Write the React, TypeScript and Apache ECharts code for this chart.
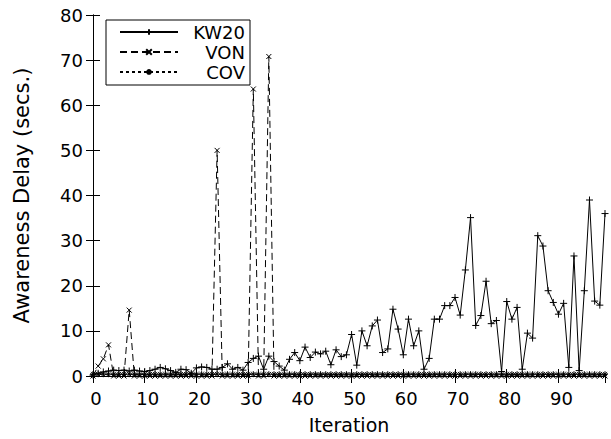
import React, { useEffect, useRef } from "react";
import * as echarts from "echarts";

const iterations = [
  0, 1, 2, 3, 4, 5, 6, 7, 8, 9, 10, 11, 12, 13, 14, 15, 16, 17, 18, 19,
  20, 21, 22, 23, 24, 25, 26, 27, 28, 29, 30, 31, 32, 33, 34, 35, 36, 37, 38, 39,
  40, 41, 42, 43, 44, 45, 46, 47, 48, 49, 50, 51, 52, 53, 54, 55, 56, 57, 58, 59,
  60, 61, 62, 63, 64, 65, 66, 67, 68, 69, 70, 71, 72, 73, 74, 75, 76, 77, 78, 79,
  80, 81, 82, 83, 84, 85, 86, 87, 88, 89, 90, 91, 92, 93, 94, 95, 96, 97, 98, 99,
];

const kw20 = [
  0.2, 0.6, 0.9, 1.1, 1.3, 1.2, 1.3, 1.1, 1.3, 1.1,
  1.0, 1.2, 1.5, 1.9, 1.6, 1.2, 0.8, 1.5, 1.4, 0.6,
  1.8, 2.0, 1.9, 1.5, 1.5, 1.9, 2.7, 1.5, 1.9, 1.3,
  3.0, 3.9, 4.4, 1.5, 4.4, 3.2, 2.2, 1.3, 3.7, 5.2,
  3.4, 6.4, 4.1, 5.3, 4.9, 5.5, 2.5, 5.8, 4.3, 4.7,
  9.2, 2.4, 10.0, 6.7, 11.1, 12.4, 5.2, 6.0, 14.8, 10.4,
  4.7, 12.6, 6.7, 10.0, 1.5, 3.9, 12.6, 12.6, 15.6, 15.6,
  17.4, 13.5, 23.5, 35.1, 11.2, 13.4, 21.0, 11.6, 12.3, 1.0,
  16.5, 12.6, 15.2, 1.5, 9.5, 8.4, 31.1, 28.8, 18.9, 16.3,
  13.7, 16.1, 1.9, 26.6, 1.2, 18.9, 39.0, 16.6, 15.7, 36.0,
];

const von = [
  0, 2.2, 3.8, 6.9, 0, 0, 0, 14.6, 0, 0,
  0, 0, 0, 0, 0, 0, 0, 0, 0, 0,
  0, 0, 0, 0, 50.0, 0, 0, 0, 0, 0,
  0, 63.6, 0, 0, 70.8, 0, 0, 0, 0, 0,
  0, 0, 0, 0, 0, 0, 0, 0, 0, 0,
  0, 0, 0, 0, 0, 0, 0, 0, 0, 0,
  0, 0, 0, 0, 0, 0, 0, 0, 0, 0,
  0, 0, 0, 0, 0, 0, 0, 0, 0, 0,
  0, 0, 0, 0, 0, 0, 0, 0, 0, 0,
  0, 0, 0, 0, 0, 0, 0, 0, 0, 0,
];

const cov = [
  0.4, 0.4, 0.4, 0.4, 0.4, 0.4, 0.4, 0.4, 0.4, 0.4,
  0.4, 0.4, 0.4, 0.4, 0.4, 0.4, 0.4, 0.4, 0.4, 0.4,
  0.4, 0.4, 0.4, 0.4, 0.4, 0.4, 0.4, 0.4, 0.4, 0.4,
  0.4, 0.4, 0.4, 0.4, 0.4, 0.4, 0.4, 0.4, 0.4, 0.4,
  0.4, 0.4, 0.4, 0.4, 0.4, 0.4, 0.4, 0.4, 0.4, 0.4,
  0.4, 0.4, 0.4, 0.4, 0.4, 0.4, 0.4, 0.4, 0.4, 0.4,
  0.4, 0.4, 0.4, 0.4, 0.4, 0.4, 0.4, 0.4, 0.4, 0.4,
  0.4, 0.4, 0.4, 0.4, 0.4, 0.4, 0.4, 0.4, 0.4, 0.4,
  0.4, 0.4, 0.4, 0.4, 0.4, 0.4, 0.4, 0.4, 0.4, 0.4,
  0.4, 0.4, 0.4, 0.4, 0.4, 0.4, 0.4, 0.4, 0.4, 0.4,
];

const seriesNames = ["KW20", "VON", "COV"];

const FONT = "DejaVu Sans";
const PLUS = "path://M0,5L10,5M5,0L5,10";
const CROSS = "path://M0,0L10,10M10,0L0,10";
const STAR = "path://M0,5L10,5M5,0L5,10M1.5,1.5L8.5,8.5M8.5,1.5L1.5,8.5";

function pairs(vals: number[]) {
  return iterations.map((x, i) => [x, vals[i]]);
}

export default function App() {
  const ref = useRef<HTMLDivElement>(null);
  useEffect(() => {
    if (!ref.current) return;
    const chart = echarts.init(ref.current, null, { renderer: "svg" });
    const axisCommon = {
      axisLine: { show: true, lineStyle: { color: "#000", width: 1 } },
      axisTick: { show: true, inside: true, length: 7, lineStyle: { color: "#000", width: 1 } },
      splitLine: { show: false },
    };
    const mk = (name: string, vals: number[], symbol: string, size: number, dash: any) => ({
      name,
      type: "line",
      data: pairs(vals),
      symbol,
      symbolSize: size,
      showAllSymbol: true,
      lineStyle: { color: "#000", width: 1, type: dash },
      itemStyle: { color: "#000", borderColor: "#000", borderWidth: 1 },
      emphasis: { disabled: true },
    });
    chart.setOption({
      animation: false,
      backgroundColor: "#fff",
      grid: {
        left: 93,
        right: 6,
        top: 15,
        bottom: 63,
        containLabel: false,
        outerBoundsMode: "none",
      },
      legend: {
        data: seriesNames,
        orient: "vertical",
        left: 106,
        top: 20,
        padding: [3, 5, 4, 13],
        itemGap: 2,
        itemWidth: 58,
        itemHeight: 7,
        itemTextGap: 2,
        borderColor: "#000",
        borderWidth: 1,
        backgroundColor: "#fff",
        selectedMode: false,
        formatter: (n: string) => "{a|" + n + "}",
        textStyle: {
          color: "#000",
          fontFamily: FONT,
          fontSize: 18,
          rich: { a: { width: 62, align: "right", fontFamily: FONT, fontSize: 18, color: "#000" } },
        },
      },
      xAxis: [
        {
          type: "value",
          min: 0,
          max: 99,
          interval: 10,
          position: "bottom",
          name: "Iteration",
          nameLocation: "middle",
          nameGap: 39,
          nameTextStyle: { color: "#000", fontFamily: FONT, fontSize: 19 },
          axisLabel: {
            color: "#000",
            fontFamily: FONT,
            fontSize: 18,
            margin: 13,
            showMaxLabel: false,
            padding: [0, 0, 0, 6],
          },
          ...axisCommon,
        },
        {
          type: "value",
          min: 0,
          max: 99,
          interval: 10,
          position: "top",
          axisLabel: { show: false },
          ...axisCommon,
        },
      ],
      yAxis: [
        {
          type: "value",
          min: 0,
          max: 80,
          interval: 10,
          position: "left",
          name: "Awareness Delay (secs.)",
          nameLocation: "middle",
          nameGap: 61,
          nameTextStyle: { color: "#000", fontFamily: FONT, fontSize: 21 },
          axisLabel: { color: "#000", fontFamily: FONT, fontSize: 18, margin: 10 },
          ...axisCommon,
        },
        {
          type: "value",
          min: 0,
          max: 80,
          interval: 10,
          position: "right",
          axisLabel: { show: false },
          ...axisCommon,
        },
      ],
      series: [
        mk("KW20", kw20, PLUS, 7, "solid"),
        mk("VON", von, CROSS, 5, [7, 4]),
        mk("COV", cov, STAR, 6, [3, 3]),
      ],
    });
    return () => chart.dispose();
  }, []);
  return (
    <div
      ref={ref}
      style={{ position: "fixed", left: 0, top: 0, width: 611, height: 439, background: "#fff" }}
    />
  );
}
